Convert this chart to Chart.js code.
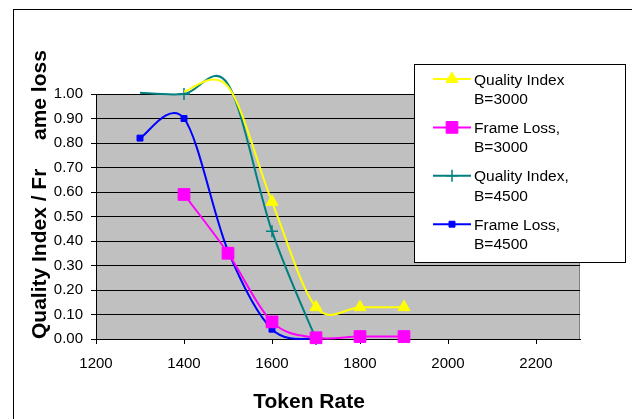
<!DOCTYPE html>
<html>
<head>
<meta charset="utf-8">
<script src="https://cdn.jsdelivr.net/npm/chart.js@4.4.1/dist/chart.umd.min.js"></script>
<style>
  html, body { margin: 0; padding: 0; background: #fff; }
  canvas { display: block; }
</style>
</head>
<body>
<canvas id="chart" width="632" height="419"></canvas>
<script>
// data
const tokenRates = [1300, 1400, 1500, 1600, 1700, 1800, 1900];
const qualityB3000 = [null, 1.01, 1.03, 0.56, 0.13, 0.13, 0.13];
const frameLossB3000 = [null, 0.59, 0.35, 0.07, 0.005, 0.01, 0.01];
const qualityB4500 = [1.005, 1.00, 1.04, 0.44, 0.00, null, null];
const frameLossB4500 = [0.82, 0.90, 0.36, 0.04, 0.00, null, null];
const xTicks = [1200, 1400, 1600, 1800, 2000, 2200];
const seriesLabels = ['Quality Index\nB=3000', 'Frame Loss,\nB=3000', 'Quality Index,\nB=4500', 'Frame Loss,\nB=4500'];

const FONT = '"Liberation Sans", Arial, sans-serif';

function points(values) {
    return tokenRates.map((x, i) => ({ x: x, y: values[i] })).filter(p => p.y !== null);
}

// Excel hides markers that fall above the axis maximum
function hideAbove(r) {
    return ctx => (ctx.raw && ctx.raw.y > 1 ? 0 : r);
}

const styles = [
    { color: '#FFFF00', shape: 'triangle', radius: 7, borderWidth: 1 },
    { color: '#FF00FF', shape: 'rect', radius: 8.3, borderWidth: 1 },
    { color: '#008080', shape: 'cross', radius: 6, borderWidth: 1.5 },
    { color: '#0000FF', shape: 'rect', radius: 4.2, borderWidth: 1 }
];
const seriesValues = [qualityB3000, frameLossB3000, qualityB4500, frameLossB4500];

const datasets = seriesValues.map((vals, i) => ({
    label: seriesLabels[i],
    data: points(vals),
    borderColor: styles[i].color,
    backgroundColor: styles[i].color,
    borderWidth: 2,
    pointStyle: styles[i].shape,
    pointRadius: hideAbove(styles[i].radius),
    pointBorderWidth: styles[i].borderWidth,
    pointBorderColor: styles[i].color,
    pointBackgroundColor: styles[i].color,
    tension: 0.4,
    clip: false
}));

function drawMarker(ctx, st, x, y) {
    ctx.save();
    ctx.fillStyle = st.color;
    ctx.strokeStyle = st.color;
    ctx.lineWidth = st.borderWidth;
    const r = st.radius;
    ctx.beginPath();
    if (st.shape === 'triangle') {
        for (let k = 0; k < 3; k++) {
            const a = k * 2 * Math.PI / 3;
            const px = x + Math.sin(a) * r, py = y - Math.cos(a) * r;
            if (k === 0) ctx.moveTo(px, py); else ctx.lineTo(px, py);
        }
        ctx.closePath();
        ctx.fill();
        ctx.stroke();
    } else if (st.shape === 'rect') {
        const s = Math.SQRT1_2 * r;
        ctx.rect(x - s, y - s, 2 * s, 2 * s);
        ctx.fill();
        ctx.stroke();
    } else if (st.shape === 'cross') {
        ctx.moveTo(x, y - r); ctx.lineTo(x, y + r);
        ctx.moveTo(x - r, y); ctx.lineTo(x + r, y);
        ctx.stroke();
    }
    ctx.restore();
}

// Excel style smoothing: control points at P +/- (next - prev) / 6
const excelSmooth = {
    id: 'excelSmooth',
    beforeDatasetDraw(chart, args) {
        const meta = args.meta;
        const line = meta.dataset;
        if (!line) return;
        line.updateControlPoints(chart.chartArea, 'x');
        const pts = meta.data;
        pts.forEach((p, i) => {
            const prev = pts[Math.max(i - 1, 0)];
            const next = pts[Math.min(i + 1, pts.length - 1)];
            const dx = (next.x - prev.x) / 6, dy = (next.y - prev.y) / 6;
            p.cp1x = p.x - dx; p.cp1y = p.y - dy;
            p.cp2x = p.x + dx; p.cp2y = p.y + dy;
        });
    }
};

const decorations = {
    id: 'decorations',
    beforeDraw(chart) {
        const { ctx, chartArea: a } = chart;
        ctx.save();
        ctx.fillStyle = '#fff';
        ctx.fillRect(0, 0, chart.width, chart.height);
        // outer frame
        ctx.strokeStyle = '#000';
        ctx.lineWidth = 1;
        ctx.strokeRect(13.5, 9.5, 700, 500);
        // plot background
        ctx.fillStyle = '#C0C0C0';
        ctx.fillRect(a.left, a.top, a.right - a.left, a.bottom - a.top);
        ctx.strokeStyle = '#808080';
        ctx.beginPath();
        ctx.moveTo(a.left, a.top + 0.5);
        ctx.lineTo(a.right - 0.5, a.top + 0.5);
        ctx.lineTo(a.right - 0.5, a.bottom);
        ctx.stroke();
        ctx.restore();
    },
    afterDraw(chart) {
        const { ctx } = chart;
        ctx.save();
        ctx.fillStyle = '#000';
        // axis titles
        ctx.font = 'bold 21px ' + FONT;
        ctx.textAlign = 'center';
        ctx.textBaseline = 'alphabetic';
        ctx.fillText('Token Rate', 309, 408);
        ctx.save();
        ctx.translate(46, 339);
        ctx.rotate(-Math.PI / 2);
        ctx.textAlign = 'left';
        ctx.fillText('Quality Index / Fr', 0, 0);
        ctx.fillText('ame loss', 199, 0);
        ctx.restore();

        // legend
        ctx.fillStyle = '#fff';
        ctx.fillRect(414, 64, 212, 198);
        ctx.strokeStyle = '#000';
        ctx.lineWidth = 1;
        ctx.strokeRect(414.5, 64.5, 211, 198);
        ctx.font = '15.5px ' + FONT;
        ctx.textAlign = 'left';
        ctx.textBaseline = 'alphabetic';
        seriesLabels.forEach((label, i) => {
            const y = 79 + i * 48.4;
            const st = styles[i];
            ctx.strokeStyle = st.color;
            ctx.lineWidth = 2;
            ctx.beginPath();
            ctx.moveTo(433, y);
            ctx.lineTo(471, y);
            ctx.stroke();
            drawMarker(ctx, st, 452, y);
            ctx.fillStyle = '#000';
            label.split('\n').forEach((line, j) => {
                ctx.fillText(line, 474, y + 5.5 + j * 19.5);
            });
        });
        ctx.restore();
    }
};

new Chart(document.getElementById('chart'), {
    type: 'line',
    data: { datasets: datasets },
    options: {
        responsive: false,
        animation: false,
        layout: { padding: { left: 0, top: 94, right: 52, bottom: 0 } },
        elements: { line: { capBezierPoints: false } },
        plugins: { legend: { display: false }, tooltip: { enabled: false } },
        scales: {
            x: {
                type: 'linear',
                min: 1200,
                max: 2300,
                afterBuildTicks: scale => {
                    scale.ticks = xTicks.map(v => ({ value: v }));
                },
                afterFit: scale => { scale.height = 80; },
                ticks: {
                    color: '#000',
                    font: { family: FONT, size: 15 },
                    padding: 11,
                    maxRotation: 0,
                    callback: v => String(v)
                },
                grid: { display: true, drawOnChartArea: false, drawTicks: true, tickLength: 5, color: '#000' },
                border: { display: true, color: '#000', width: 1 }
            },
            y: {
                min: 0,
                max: 1,
                afterFit: scale => { scale.width = 96; },
                ticks: {
                    stepSize: 0.1,
                    color: '#000',
                    font: { family: FONT, size: 15 },
                    padding: 8,
                    callback: v => v.toFixed(2)
                },
                grid: { color: '#000', drawTicks: true, tickLength: 5 },
                border: { display: true, color: '#000', width: 1 }
            }
        }
    },
    plugins: [excelSmooth, decorations]
});
</script>
</body>
</html>
